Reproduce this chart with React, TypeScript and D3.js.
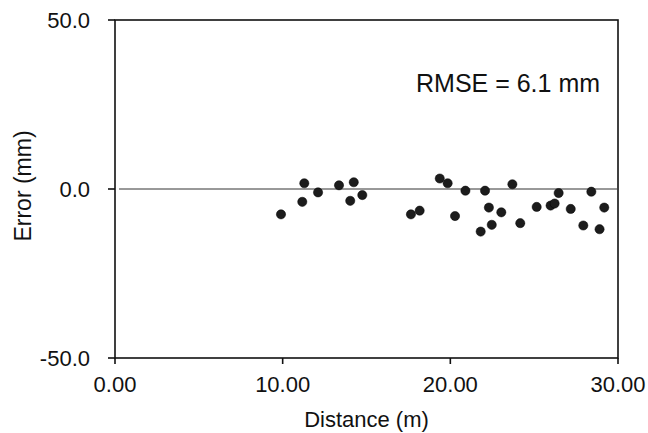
import React from "react";
import * as d3 from "d3";

const distance = [9.90, 11.29, 11.17, 12.11, 13.36, 14.24, 14.03, 14.75,
  17.65, 18.17, 19.37, 19.84, 20.28, 20.90, 21.81, 22.07, 22.30, 22.47, 23.04, 23.70,
  24.17, 25.15, 25.98, 26.22, 26.46, 27.18, 27.93, 28.41, 28.90, 29.18];
const errorMm = [-7.5, 1.7, -3.8, -1.0, 1.1, 2.0, -3.5, -1.8,
  -7.5, -6.4, 3.1, 1.7, -8.0, -0.5, -12.6, -0.5, -5.5, -10.6, -6.9, 1.4,
  -10.1, -5.3, -4.9, -4.3, -1.2, -5.9, -10.8, -0.8, -11.9, -5.5];
const xTicks = [0, 10, 20, 30];
const yTicks = [-50, 0, 50];
const annotation = "RMSE = 6.1 mm";
const xTitle = "Distance (m)";
const yTitle = "Error (mm)";

export default function App() {
  const W = 648, H = 433;
  const L = 115, R = 618, T = 20, B = 358;
  const x = d3.scaleLinear().domain([0, 30]).range([L, R]);
  const y = d3.scaleLinear().domain([-50, 50]).range([B, T]);
  const font = "'Liberation Sans', Arial, Helvetica, sans-serif";
  return (
    <svg width={W} height={H} style={{ position: "absolute", left: 0, top: 0, background: "#fff" }} fontFamily={font}>
      <rect width={W} height={H} fill="#fff" />
      {/* zero line */}
      <line x1={L + 4} x2={R - 1} y1={y(0)} y2={y(0)} stroke="#333" strokeWidth={1} />
      {/* frame */}
      <rect x={L} y={T} width={R - L} height={B - T} fill="none" stroke="#111" strokeWidth={1.6} />
      {/* y ticks */}
      {yTicks.map((t) => (
        <g key={"y" + t}>
          <line x1={L - 7} x2={L} y1={y(t)} y2={y(t)} stroke="#111" strokeWidth={1.6} />
          <text x={90} y={y(t)} dy="0.36em" textAnchor="end" fontSize={22} fill="#111">
            {t.toFixed(1)}
          </text>
        </g>
      ))}
      {/* x ticks */}
      {xTicks.map((t) => (
        <g key={"x" + t}>
          <line x1={x(t)} x2={x(t)} y1={B} y2={B + 6} stroke="#111" strokeWidth={1.6} />
          <text x={x(t)} y={392} textAnchor="middle" fontSize={22} fill="#111">
            {t.toFixed(2)}
          </text>
        </g>
      ))}
      <text x={(L + R) / 2} y={427} textAnchor="middle" fontSize={22} fill="#111">{xTitle}</text>
      <text transform={`translate(31,${(T + B) / 2 - 3}) rotate(-90)`} textAnchor="middle" fontSize={23} fill="#111">{yTitle}</text>
      <text x={416} y={92} fontSize={25} fill="#111">{annotation}</text>
      {distance.map((d, i) => (
        <circle key={i} cx={x(d)} cy={y(errorMm[i])} r={4.6} fill="#1c1c1c" stroke="#000" strokeWidth={0.5} />
      ))}
    </svg>
  );
}
